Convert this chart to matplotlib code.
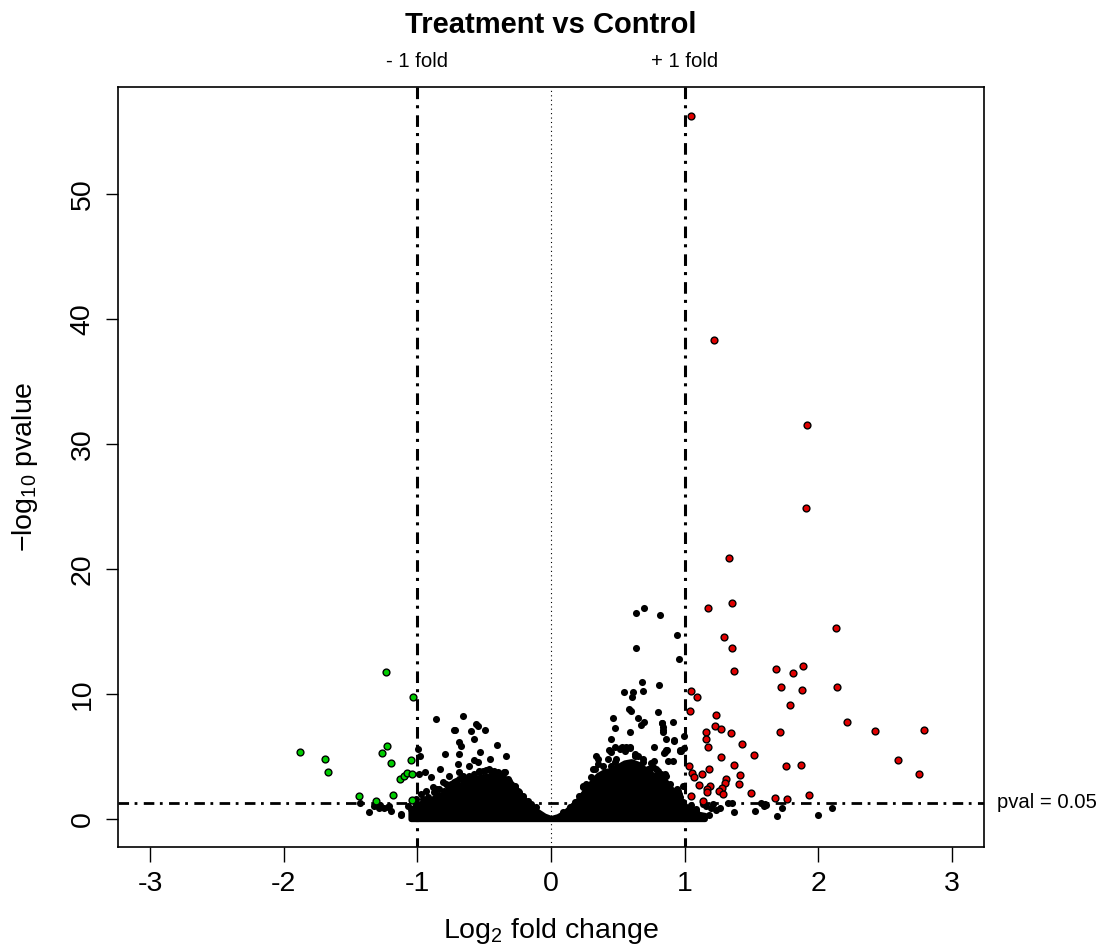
import matplotlib
matplotlib.use("Agg")
import matplotlib.pyplot as plt
import matplotlib.transforms as mtransforms

plt.rcParams["font.family"] = ["Liberation Sans", "DejaVu Sans"]
plt.rcParams["mathtext.fontset"] = "custom"
plt.rcParams["mathtext.rm"] = "Liberation Sans"
plt.rcParams["mathtext.it"] = "Liberation Sans"
plt.rcParams["axes.unicode_minus"] = False

# significant up (red) and down (green) genes: log2 fold change, -log10 p
red_x = [1.050, 1.220, 1.919, 1.909, 1.330, 1.172, 1.357, 2.131, 1.292, 1.357,
         1.367, 1.684, 1.814, 1.889, 1.722, 1.879, 2.141, 1.787, 1.050, 1.090,
         1.043, 1.237, 1.227, 1.275, 1.162, 1.347, 1.712, 2.216, 2.421, 2.793,
         1.162, 1.172, 1.432, 1.275, 1.517, 2.596, 2.755, 1.367, 1.757, 1.871,
         1.032, 1.052, 1.070, 1.132, 1.182, 1.414, 1.312, 1.302, 1.107, 1.192,
         1.404, 1.165, 1.165, 1.282, 1.257, 1.285, 1.497, 1.929, 1.050, 1.674,
         1.766, 1.140]
red_y = [56.27, 38.30, 31.55, 24.90, 20.84, 16.88, 17.28, 15.25, 14.59, 13.69,
         11.80, 12.02, 11.70, 12.20, 10.53, 10.34, 10.53, 9.12, 10.23, 9.73,
         8.67, 8.32, 7.44, 7.18, 6.96, 6.86, 6.94, 7.74, 7.04, 7.15,
         6.36, 5.77, 5.96, 4.97, 5.08, 4.68, 3.59, 4.28, 4.20, 4.28,
         4.20, 3.69, 3.37, 3.59, 3.99, 3.48, 3.19, 2.90, 2.71, 2.61,
         2.79, 2.39, 2.13, 2.47, 2.21, 1.99, 2.10, 1.91, 1.81, 1.70,
         1.59, 1.44]

green_x = [-1.876, -1.689, -1.672, -1.235, -1.030, -1.225, -1.262, -1.195, -1.047,
           -1.130, -1.102, -1.075, -1.037, -1.440, -1.185, -1.040, -1.310]
green_y = [5.37, 4.78, 3.77, 11.72, 9.76, 5.87, 5.26, 4.47, 4.68,
           3.19, 3.46, 3.69, 3.59, 1.81, 1.91, 1.49, 1.44]

# non-significant genes that stand out from the dense cloud
black_x = [0.695, 0.633, 0.815, 0.940, 0.633, 0.957, 0.678, 0.808, 0.688, 0.613,
           0.548, 0.605, 0.586, 0.598, 0.800, 0.463, 0.653, 0.695, 0.676, 0.481,
           0.830, 0.913, 0.841, 0.593, 0.451, 0.863, 0.920, 0.770, 0.860, 0.843,
           0.963, 0.433, 0.526, 0.588, 0.875, 0.913, 0.995, 0.995, 0.338, 0.828,
           0.840, 0.835, 0.850, 0.870, 0.451, 0.970, 0.770, 0.745, 0.353, 0.945,
           0.987, 0.955, 0.313, 0.238, 0.476, 0.530, 0.560, 0.625, 0.688, 0.738,
           0.788, 0.850, 0.875, 0.950, 0.813, 0.476, 0.968, 0.920,
           1.212, 1.324, 1.357, 1.367, 1.262, 1.237, 1.180, 1.137, 1.162, 1.524,
           1.574, 1.599, 1.592, 1.612, 1.692, 1.732, 2.001, 2.103, 1.062, 1.087,
           1.032, 1.050, 1.100, 1.200,
           -0.655, -0.858, -0.561, -0.543, -0.496, -0.725, -0.601, -0.578, -0.685, -0.673,
           -0.406, -0.530, -0.793, -0.688, -0.336, -0.993, -0.980, -0.453, -0.578, -0.545,
           -0.693, -0.830, -0.897, -0.942, -0.985, -0.685, -0.616, -0.341, -0.785, -0.750,
           -0.853, -1.120, -1.050, -1.429, -1.365, -1.310, -1.277, -1.220, -1.197, -1.210,
           -1.252, -1.122, -1.072, -0.998, -1.327, -0.610, -0.536, -0.461, -0.410, -0.361,
           -0.760, -0.710, -0.810, -0.885, -0.935, -0.972, -0.660, -0.635, -0.311, -0.273,
           -0.249, -0.720, -1.285]
black_y = [16.88, 16.48, 16.29, 14.70, 13.69, 12.81, 10.92, 10.74, 10.23, 10.15,
           10.13, 9.78, 8.80, 8.61, 8.53, 8.11, 8.08, 7.76, 7.52, 7.31,
           7.71, 7.76, 7.15, 6.96, 6.36, 6.36, 6.28, 5.77, 5.48, 5.29,
           5.50, 5.53, 5.66, 5.66, 4.63, 4.63, 6.67, 5.70, 5.05, 7.68,
           7.34, 6.96, 5.32, 5.50, 5.37, 5.42, 4.65, 4.47, 4.39, 2.39,
           2.66, 1.99, 3.99, 2.66, 5.74, 5.75, 5.75, 5.05, 4.78, 3.99,
           3.99, 3.59, 2.66, 2.26, 2.66, 4.52, 5.45, 6.25,
           1.22, 1.24, 1.27, 0.53, 0.85, 0.72, 0.32, 1.17, 1.06, 0.61,
           1.25, 1.20, 1.01, 1.15, 0.21, 0.90, 0.32, 0.90, 0.58, 0.80,
           0.45, 1.10, 0.35, 0.90,
           8.24, 7.97, 7.58, 7.44, 7.15, 7.12, 7.02, 6.36, 6.17, 5.85,
           5.93, 5.37, 5.18, 5.21, 5.00, 5.58, 5.05, 4.78, 4.70, 4.52,
           4.36, 3.99, 3.37, 3.77, 3.59, 3.72, 3.24, 3.77, 2.79, 2.71,
           2.39, 0.32, 0.80, 1.25, 0.53, 1.20, 1.09, 0.93, 0.66, 1.06,
           0.85, 0.40, 1.01, 0.66, 1.06, 4.25, 3.85, 3.99, 3.59, 3.32,
           3.45, 3.06, 2.93, 2.53, 2.26, 1.99, 3.45, 2.93, 3.06, 2.66,
           2.26, 7.15, 0.88]

# genes along the ragged top edge of the two dense clouds
edge_x = [-1.010, -0.960, -0.923, -0.873, -0.835, -0.798, -0.773, -0.748, -0.723, -0.685,
          -0.660, -0.610, -0.573, -0.536, -0.511, -0.486, -0.448, -0.423, -0.398, -0.373,
          -0.348, -0.324, -0.298, -0.273, -0.236, -0.211, -0.174, -0.148, -0.111,
          0.089, 0.139, 0.176, 0.213, 0.238, 0.263, 0.301, 0.326, 0.351, 0.388,
          0.426, 0.451, 0.488, 0.513, 0.551, 0.588, 0.625, 0.650, 0.688, 0.725,
          0.763, 0.800, 0.826, 0.863, 0.888, 0.925, 0.963, 0.990, 1.037, 1.088]
edge_y = [1.59, 1.59, 1.73, 2.13, 2.39, 2.26, 2.66, 2.79, 2.93, 3.19,
          3.19, 3.45, 3.59, 3.72, 3.85, 3.93, 3.85, 3.85, 3.72, 3.59,
          3.72, 3.19, 2.79, 2.53, 2.13, 1.86, 1.46, 1.20, 0.93,
          0.53, 0.93, 1.33, 1.86, 2.53, 2.79, 3.32, 3.99, 4.78, 4.25,
          4.78, 4.25, 4.78, 5.58, 5.45, 5.72, 5.18, 5.05, 4.52, 3.99,
          4.12, 3.85, 3.59, 3.45, 2.79, 2.26, 1.73, 1.33, 0.93, 0.66]

# filled body of the dense clouds (too many points to draw one by one)
core_x = [-1.05, -1.0, -0.95, -0.9, -0.85, -0.8, -0.75, -0.7, -0.65, -0.6, -0.55,
          -0.5, -0.45, -0.4, -0.35, -0.3, -0.25, -0.2, -0.15, -0.1, -0.05, 0.0,
          0.05, 0.1, 0.15, 0.2, 0.25, 0.3, 0.35, 0.4, 0.45, 0.5, 0.55, 0.6,
          0.65, 0.7, 0.75, 0.8, 0.85, 0.9, 0.95, 1.0, 1.05, 1.1, 1.15]
core_top = [0.7, 1.2, 1.3, 1.5, 1.9, 2.0, 2.4, 2.6, 2.9, 3.1, 3.3,
            3.4, 3.45, 3.35, 3.2, 2.5, 2.2, 1.6, 0.9, 0.6, 0.25, 0.05,
            0.2, 0.5, 1.0, 1.5, 2.2, 2.9, 3.5, 3.8, 3.9, 4.2, 4.5, 4.6,
            4.4, 4.0, 3.6, 3.4, 3.1, 2.4, 1.8, 1.1, 0.6, 0.4, 0.3]

fold_cut = 1
p_cut = 1.301  # -log10(0.05)
x_ticks = [-3, -2, -1, 0, 1, 2, 3]
y_ticks = [0, 10, 20, 30, 40, 50]

fig = plt.figure(figsize=(10.99, 9.44), dpi=100)
ax = fig.add_axes([118 / 1099, 1 - 847 / 944, 866 / 1099, 760 / 944])

dotdash = (0, (3.8, 2.0, 1.0, 2.3))
ax.axvline(0, color="black", lw=0.8, ls=(0, (1, 3)), zorder=1)
for xv in (-fold_cut, fold_cut):
    ax.plot([xv, xv], [58.55, -2.25], color="black", lw=2.2, ls=dotdash, zorder=1)
ax.plot([-3.24, 3.24], [p_cut, p_cut], color="black", lw=2.0, ls=dotdash, zorder=1)

ax.fill_between(core_x, 0, core_top, facecolor="black", edgecolor="black",
                lw=4, joinstyle="round", zorder=2)
ax.scatter(edge_x, edge_y, s=26, c="black", lw=0, zorder=3)
ax.scatter(black_x, black_y, s=26, c="black", lw=0, zorder=3)
ax.scatter(red_x, red_y, s=24, c="#e00000", edgecolors="black", lw=1.0, zorder=4)
ax.scatter(green_x, green_y, s=24, c="#00cc00", edgecolors="black", lw=1.0, zorder=4)

ax.set_xlim(-3.24, 3.24)
ax.set_ylim(-2.25, 58.55)
ax.set_xticks(x_ticks)
ax.set_xticklabels([str(v) for v in x_ticks])
ax.set_yticks(y_ticks)
ax.set_yticklabels([str(v) for v in y_ticks], rotation=90, va="center")
ax.tick_params(axis="x", direction="out", length=10.5, width=1, labelsize=20.5, pad=7)
ax.tick_params(axis="y", direction="out", length=9, width=1, labelsize=20.5, pad=7)
for sp in ax.spines.values():
    sp.set_linewidth(1.2)

trans = mtransforms.blended_transform_factory(ax.transData, ax.transAxes)
ax.text(-fold_cut, 1.033, "- 1 fold", transform=trans, ha="center", va="center", fontsize=14.6)
ax.text(fold_cut, 1.033, "+ 1 fold", transform=trans, ha="center", va="center", fontsize=14.6)
trans2 = mtransforms.blended_transform_factory(ax.transAxes, ax.transData)
ax.text(1.015, p_cut, "pval = 0.05", transform=trans2, ha="left", va="center",
        fontsize=14.6, clip_on=False)

fig.text(551 / 1099, 1 - 25 / 944, "Treatment vs Control", ha="center", va="center",
         fontsize=21, fontweight="bold")
fig.text(551 / 1099, 6 / 944, r"Log$_2$ fold change", ha="center", va="baseline", fontsize=20.5)
fig.text(25 / 1099, 1 - 467 / 944, r"$-\mathrm{log}_{10}$ pvalue", ha="center", va="center",
         rotation=90, fontsize=20.5)

fig.savefig("out.png", dpi=100)
